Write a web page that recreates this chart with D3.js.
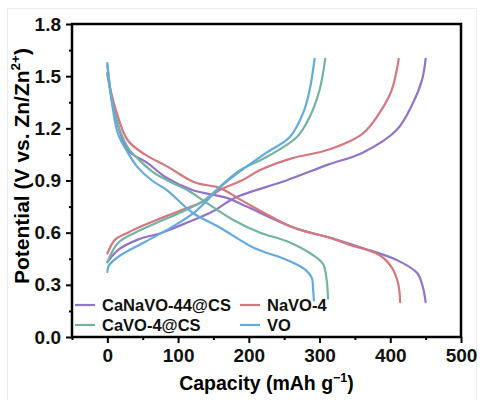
<!DOCTYPE html>
<html>
<head>
<meta charset="utf-8">
<script src="https://cdn.jsdelivr.net/npm/d3@7"></script>
<style>
  body { margin: 0; background: #fff; }
  text { font-family: "Liberation Sans", Arial, sans-serif; font-weight: bold; }
</style>
</head>
<body>
<div id="chart"></div>
<script>
// series names and colours
const seriesNames = ["CaNaVO-44@CS", "NaVO-4", "CaVO-4@CS", "VO"]
const seriesColors = ["#9174c6", "#d2787e", "#74b3a4", "#64aadd"]

// discharge curves: [capacity, potential]
const dischargeCaNaVO = [[0,1.52],[10,1.30],[29,1.075],[57,1.0],[82,0.92],[120,0.845],[169,0.80],[197,0.75],[263,0.63],[320,0.565],[361,0.512],[409,0.443],[438,0.368],[446,0.288],[450,0.20]]
const dischargeNaVO = [[0,1.51],[11,1.32],[29,1.13],[53,1.05],[85,0.98],[123,0.89],[159,0.857],[188,0.79],[263,0.63],[315,0.57],[343,0.53],[385,0.47],[402,0.40],[411,0.31],[414,0.20]]
const dischargeCaVO = [[0,1.565],[10,1.29],[29,1.09],[42,1.03],[64,0.95],[85,0.90],[113,0.845],[141,0.77],[178,0.673],[216,0.60],[254,0.55],[291,0.47],[305,0.42],[310,0.33],[312,0.22]]
const dischargeVO = [[0,1.575],[6,1.36],[15,1.17],[29,1.06],[42,0.98],[63,0.90],[84,0.845],[121,0.713],[159,0.63],[206,0.515],[254,0.443],[279,0.39],[289,0.34],[291,0.27],[292,0.21]]

// charge curves: [capacity, potential]
const chargeCaNaVO = [[0,0.43],[15,0.50],[43,0.56],[77,0.60],[114,0.66],[148,0.72],[180,0.80],[253,0.90],[311,0.99],[361,1.06],[409,1.19],[432,1.345],[445,1.48],[450,1.60]]
const chargeNaVO = [[0,0.48],[11,0.56],[29,0.60],[53,0.645],[77,0.685],[105,0.73],[134,0.776],[159,0.845],[190,0.90],[216,0.96],[263,1.03],[311,1.075],[361,1.17],[385,1.29],[402,1.42],[412,1.60]]
const chargeCaVO = [[0,0.43],[15,0.54],[39,0.60],[77,0.67],[106,0.72],[138,0.79],[184,0.95],[225,1.035],[268,1.15],[286,1.265],[300,1.42],[308,1.60]]
const chargeVO = [[0,0.374],[2,0.41],[15,0.46],[53,0.546],[91,0.632],[124,0.72],[162,0.87],[190,0.96],[225,1.06],[258,1.15],[277,1.29],[286,1.42],[293,1.60]]

const xTicks = [0, 100, 200, 300, 400, 500]
const yTicks = [0.0, 0.3, 0.6, 0.9, 1.2, 1.5, 1.8]

const curves = [
  [dischargeCaNaVO, chargeCaNaVO],
  [dischargeNaVO, chargeNaVO],
  [dischargeCaVO, chargeCaVO],
  [dischargeVO, chargeVO],
]

// dimensions
const width = 480
const height = 400
const margin = { top: 24, right: 19, bottom: 63, left: 72 }
const boundedWidth = width - margin.left - margin.right
const boundedHeight = height - margin.top - margin.bottom

const svg = d3.select("#chart").append("svg")
  .attr("width", width)
  .attr("height", height)

// faint outer frame
svg.append("rect")
  .attr("x", 7.5).attr("y", 8.5)
  .attr("width", 469).attr("height", 400)
  .attr("fill", "none")
  .attr("stroke", "#ececec")

const bounds = svg.append("g")
  .attr("transform", `translate(${margin.left},${margin.top})`)

// scales
const xScale = d3.scaleLinear().domain([-50, 500]).range([0, boundedWidth])
const yScale = d3.scaleLinear().domain([0, 1.8]).range([boundedHeight, 0])

// lines
const lineGenerator = d3.line()
  .x(d => xScale(d[0]))
  .y(d => yScale(d[1]))
  .curve(d3.curveCatmullRom.alpha(0.5))

curves.forEach((pair, i) => {
  pair.forEach(data => {
    bounds.append("path")
      .attr("d", lineGenerator(data))
      .attr("fill", "none")
      .attr("stroke", seriesColors[i])
      .attr("stroke-width", 2.2)
      .attr("stroke-linecap", "round")
  })
})

// axes
const xMinor = d3.range(-50, 501, 50).filter(v => !xTicks.includes(v))
const yMinor = d3.range(0.15, 1.8, 0.3)

bounds.append("g")
  .attr("transform", `translate(0,${boundedHeight})`)
  .call(d3.axisBottom(xScale).tickValues(xTicks).tickFormat(d3.format("d")).tickSize(6).tickSizeOuter(0).tickPadding(6))
bounds.append("g")
  .attr("transform", `translate(0,${boundedHeight})`)
  .call(d3.axisBottom(xScale).tickValues(xMinor).tickFormat("").tickSize(3).tickSizeOuter(0))
  .call(g => g.select(".domain").remove())

bounds.append("g")
  .call(d3.axisLeft(yScale).tickValues(yTicks).tickFormat(d3.format(".1f")).tickSize(6).tickSizeOuter(0).tickPadding(5))
bounds.append("g")
  .call(d3.axisLeft(yScale).tickValues(yMinor).tickFormat("").tickSize(3).tickSizeOuter(0))
  .call(g => g.select(".domain").remove())

bounds.selectAll(".tick line").attr("stroke-width", 2)
bounds.selectAll(".tick text").attr("font-size", 19).attr("fill", "#111")

// frame
bounds.append("rect")
  .attr("width", boundedWidth)
  .attr("height", boundedHeight)
  .attr("fill", "none")
  .attr("stroke", "#000")
  .attr("stroke-width", 2.5)

// axis titles
const xTitle = svg.append("text")
  .attr("x", margin.left + boundedWidth / 2)
  .attr("y", 390)
  .attr("text-anchor", "middle")
  .attr("font-size", 19.5)
xTitle.append("tspan").text("Capacity (mAh g")
xTitle.append("tspan").attr("font-size", 12.5).attr("dy", -8).text("\u22121")
xTitle.append("tspan").attr("dy", 8).text(")")

const yTitle = svg.append("text")
  .attr("transform", `translate(29,166) rotate(-90)`)
  .attr("text-anchor", "middle")
  .attr("font-size", 21)
yTitle.append("tspan").text("Potential (V vs. Zn/Zn")
yTitle.append("tspan").attr("font-size", 13.5).attr("dy", -9).text("2+")
yTitle.append("tspan").attr("dy", 9).text(")")

// legend
const legendPos = [[75, 305], [240, 305], [75, 325], [240, 325]]
seriesNames.forEach((name, i) => {
  const [lx, ly] = legendPos[i]
  const g = svg.append("g").attr("transform", `translate(${lx},${ly})`)
  g.append("line")
    .attr("x1", 0).attr("x2", 20)
    .attr("stroke", seriesColors[i])
    .attr("stroke-width", 2.2)
  g.append("text")
    .attr("x", 27)
    .attr("dy", "0.35em")
    .attr("font-size", 16.5)
    .attr("fill", "#111")
    .text(name)
})
</script>
</body>
</html>
